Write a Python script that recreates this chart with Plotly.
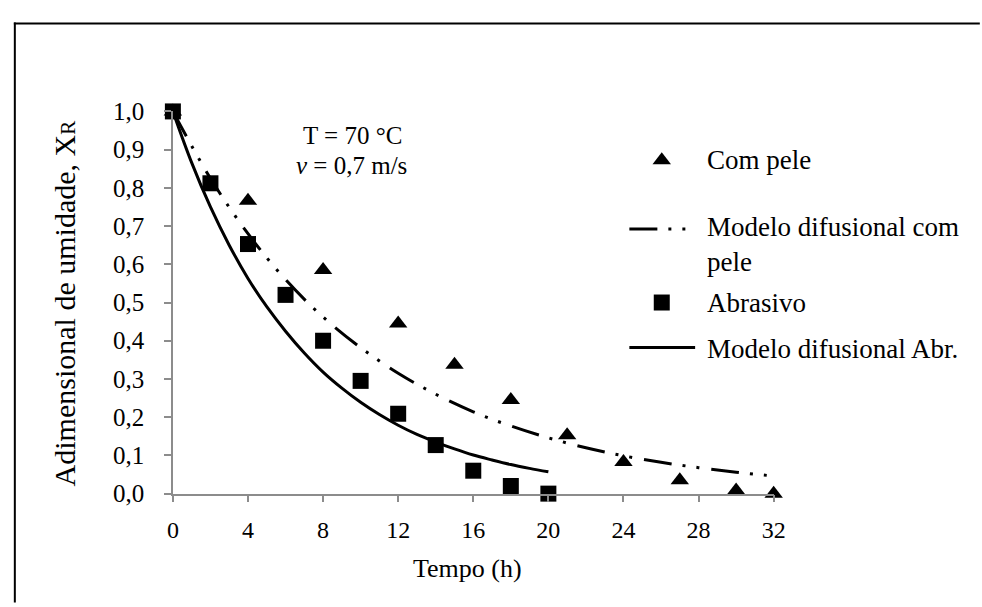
import plotly.graph_objects as go

# ---- data ----
time_com = [0, 4, 8, 12, 15, 18, 21, 24, 27, 30, 32]
xr_com = [1.0, 0.766, 0.585, 0.445, 0.337, 0.245, 0.153, 0.083, 0.035, 0.008, 0.0]

time_abr = [0, 2, 4, 6, 8, 10, 12, 14, 16, 18, 20]
xr_abr = [1.0, 0.812, 0.653, 0.52, 0.40, 0.295, 0.209, 0.127, 0.06, 0.02, 0.0]

time_mod_com = [0, 2, 4, 6, 8, 10, 12, 14, 16, 18, 20, 22, 24, 26, 28, 30, 32]
xr_mod_com = [1.0, 0.825, 0.68, 0.56, 0.462, 0.382, 0.315, 0.26, 0.214, 0.177,
              0.146, 0.12, 0.099, 0.082, 0.068, 0.056, 0.046]

time_mod_abr = list(range(0, 21))
xr_mod_abr = [1.0, 0.866, 0.75, 0.65, 0.563, 0.489, 0.425, 0.368, 0.318, 0.276,
              0.239, 0.207, 0.179, 0.155, 0.135, 0.117, 0.101, 0.088, 0.076, 0.066, 0.057]

x_ticks = [0, 4, 8, 12, 16, 20, 24, 28, 32]
y_ticks = [0.0, 0.1, 0.2, 0.3, 0.4, 0.5, 0.6, 0.7, 0.8, 0.9, 1.0]
y_tick_labels = ["0,0", "0,1", "0,2", "0,3", "0,4", "0,5", "0,6", "0,7", "0,8", "0,9", "1,0"]

legend_names = ["Com pele", "Modelo difusional com<br>pele", "Abrasivo", "Modelo difusional Abr."]

# ---- styling ----
W, H = 982, 607
FONT = "Liberation Serif, Times New Roman, serif"
DASHDOT = "28px,11px,3px,11px,3px,12px"
AX_COL = "#8c8c8c"

px_left, px_right = 170, 782
px_top, px_bottom = 103, 503


def fx(p):
    return p / W


def fy(p):
    return 1 - p / H


fig = go.Figure()

fig.add_trace(go.Scatter(x=time_com, y=xr_com, mode="markers",
                         marker=dict(symbol="triangle-up", size=16, color="black"),
                         cliponaxis=False, showlegend=False))
fig.add_trace(go.Scatter(x=time_mod_com, y=xr_mod_com, mode="lines",
                         line=dict(color="black", width=3, dash=DASHDOT, shape="spline"),
                         cliponaxis=False, showlegend=False))
fig.add_trace(go.Scatter(x=time_abr, y=xr_abr, mode="markers",
                         marker=dict(symbol="square", size=16, color="black"),
                         cliponaxis=False, showlegend=False))
fig.add_trace(go.Scatter(x=time_mod_abr, y=xr_mod_abr, mode="lines",
                         line=dict(color="black", width=3, shape="spline"),
                         cliponaxis=False, showlegend=False))

# legend symbols on a full-figure helper axis (pixel units)
LEG_SYM_X = 668
LEG_TEXT_X = 712
leg_y = dict(com=154, mod_com=226, mod_com2=259, abr=303, mod_abr=350)

fig.add_trace(go.Scatter(x=[LEG_SYM_X], y=[leg_y["com"]], xaxis="x2", yaxis="y2",
                         mode="markers", marker=dict(symbol="triangle-up", size=16, color="black"),
                         showlegend=False, hoverinfo="skip", cliponaxis=False))
fig.add_trace(go.Scatter(x=[LEG_SYM_X], y=[leg_y["abr"]], xaxis="x2", yaxis="y2",
                         mode="markers", marker=dict(symbol="square", size=16, color="black"),
                         showlegend=False, hoverinfo="skip", cliponaxis=False))

shapes = [
    dict(type="line", xref="paper", yref="paper", x0=fx(9), x1=fx(9), y0=fy(10), y1=fy(H + 10),
         line=dict(color="black", width=2)),
    dict(type="line", xref="paper", yref="paper", x0=fx(8), x1=fx(W + 10), y0=fy(11), y1=fy(11),
         line=dict(color="black", width=2)),
    dict(type="line", xref="paper", yref="paper", x0=fx(635), x1=fx(702),
         y0=fy(leg_y["mod_com"]), y1=fy(leg_y["mod_com"]),
         line=dict(color="black", width=3, dash=DASHDOT)),
    dict(type="line", xref="paper", yref="paper", x0=fx(635), x1=fx(702),
         y0=fy(leg_y["mod_abr"]), y1=fy(leg_y["mod_abr"]),
         line=dict(color="black", width=3)),
]


def ann(x, y, text, xanchor="left", size=24, angle=0):
    return dict(xref="paper", yref="paper", x=fx(x), y=fy(y), text=text, showarrow=False,
                xanchor=xanchor, yanchor="middle", align="left", textangle=angle,
                font=dict(size=size))


LEG_FS = 27
annotations = [
    ann(LEG_TEXT_X, leg_y["com"], legend_names[0], size=LEG_FS),
    ann(LEG_TEXT_X, (leg_y["mod_com"] + leg_y["mod_com2"]) / 2, legend_names[1], size=LEG_FS),
    ann(LEG_TEXT_X, leg_y["abr"], legend_names[2], size=LEG_FS),
    ann(LEG_TEXT_X, leg_y["mod_abr"] + 2, legend_names[3], size=LEG_FS),
    ann(300, 128, "T = 70 °C", size=25),
    ann(293, 160, "<i>v</i> = 0,7 m/s", size=25),
    ann(60, 304, "Adimensional de umidade, X<span style='font-size:21px'>R</span>",
        xanchor="center", angle=-90, size=30),
    ann(470, 581, "Tempo (h)", xanchor="center", size=26),
]

fig.update_layout(
    width=W, height=H,
    margin=dict(l=0, r=0, t=0, b=0),
    paper_bgcolor="white", plot_bgcolor="rgba(0,0,0,0)",
    font=dict(family=FONT, color="black", size=24),
    showlegend=False,
    xaxis=dict(domain=[fx(px_left), fx(px_right)], range=[0, 32],
               tickvals=x_ticks, ticktext=[str(v) for v in x_ticks],
               showgrid=False, zeroline=False, showline=True, linecolor=AX_COL, linewidth=1.5,
               ticks="outside", ticklen=7, tickcolor=AX_COL, tickwidth=1.5,
               tickfont=dict(size=24), ticklabelstandoff=7, anchor="y"),
    yaxis=dict(domain=[fy(px_bottom), fy(px_top)], range=[0, 1.0],
               tickvals=y_ticks, ticktext=y_tick_labels,
               showgrid=False, zeroline=False, showline=True, linecolor=AX_COL, linewidth=1.5,
               ticks="outside", ticklen=7, tickcolor=AX_COL, tickwidth=1.5,
               tickfont=dict(size=25), ticklabelstandoff=15, anchor="x"),
    xaxis2=dict(domain=[0, 1], range=[0, W], visible=False, anchor="y2"),
    yaxis2=dict(domain=[0, 1], range=[H, 0], visible=False, anchor="x2"),
    shapes=shapes,
    annotations=annotations,
)

fig.write_html("out.html")
